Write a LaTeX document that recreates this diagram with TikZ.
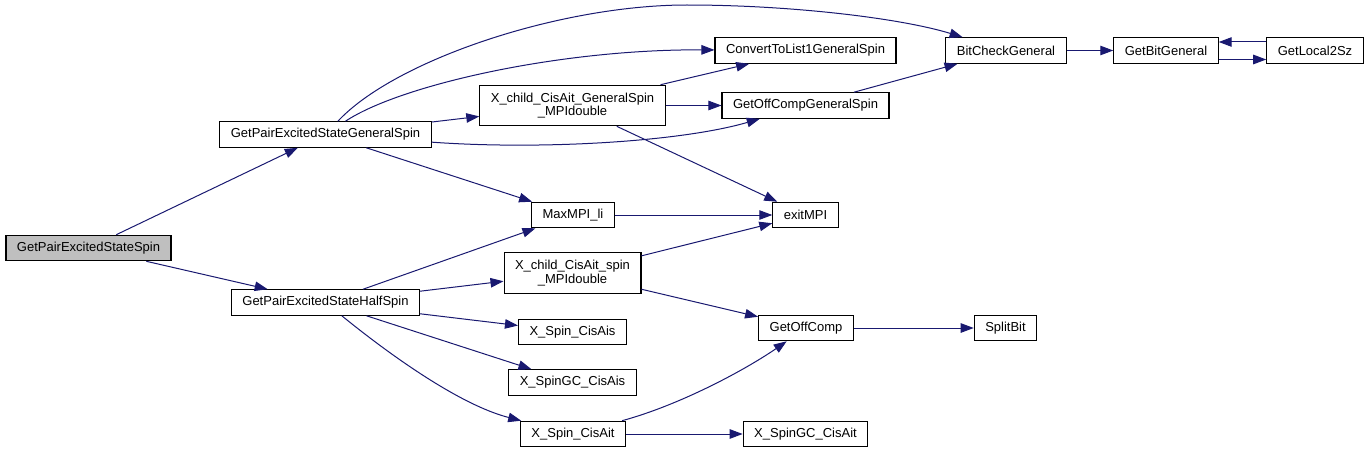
\documentclass[tikz,border=0pt]{standalone}
\usepackage{fontspec}
\setmainfont{Liberation Sans}
\usetikzlibrary{arrows.meta}
\definecolor{edgeblue}{RGB}{25,25,112}
\definecolor{rootgray}{RGB}{191,191,191}

\begin{document}
\begin{tikzpicture}[
    x=1pt, y=-1pt,
    font=\fontsize{13}{13.5}\selectfont,
    fn/.style={
      draw=black, line width=1.1pt, fill=white, align=center,
      minimum height=25.5pt, inner xsep=11pt, inner ysep=0pt
    },
    fntwo/.style={fn, minimum height=40.5pt},
    fnroot/.style={fn, fill=rootgray},
    call/.style={-{Triangle[length=13pt, width=9.5pt]}, color=edgeblue, line width=1pt}
  ]
    \useasboundingbox (0,0) rectangle (1369,452);

    % Root and first level
    \node[fnroot] (spin) at (88.5,248) {GetPairExcitedStateSpin};
    \node[fn] (gen) at (325.5,134.5) {GetPairExcitedStateGeneralSpin};
    \node[fn] (half) at (325.5,302.5) {GetPairExcitedStateHalfSpin};

    % Second column
    \node[fntwo] (xgen) at (572.5,105.5) {X\_child\_CisAit\_GeneralSpin\\\_MPIdouble};
    \node[fn] (maxmpi) at (573,215) {MaxMPI\_li};
    \node[fntwo] (xspin) at (572.5,273) {X\_child\_CisAit\_spin\\\_MPIdouble};
    \node[fn] (xcisais) at (572.5,332) {X\_Spin\_CisAis};
    \node[fn] (xgccisais) at (572.5,382.5) {X\_SpinGC\_CisAis};
    \node[fn] (xcisait) at (573,434) {X\_Spin\_CisAit};

    % Third column
    \node[fn] (conv) at (805.5,50.5) {ConvertToList1GeneralSpin};
    \node[fn] (offgen) at (805.5,105.5) {GetOffCompGeneralSpin};
    \node[fn] (exitmpi) at (805.5,215) {exitMPI};
    \node[fn] (getoffcomp) at (806,328) {GetOffComp};
    \node[fn] (xgccisait) at (805.5,434) {X\_SpinGC\_CisAit};

    % Right part
    \node[fn] (bitcheck) at (1006,50.5) {BitCheckGeneral};
    \node[fn] (splitbit) at (1005.5,328) {SplitBit};
    \node[fn] (getbit) at (1166,50.5) {GetBitGeneral};
    \node[fn] (local2sz) at (1315,50.5) {GetLocal2Sz};

    \coordinate (arctop) at (687,5);

    % Calls of GetPairExcitedStateSpin
    \draw[call] (spin) -- (gen);
    \draw[call] (spin) -- (half);

    % Calls of GetPairExcitedStateGeneralSpin
    \draw[call] (gen) .. controls (395,60) and (560,5) .. (arctop)
      .. controls (790,5) and (900,18) .. (bitcheck);
    \draw[call] (gen) .. controls (400,85) and (560,49) .. (conv);
    \draw[call] (gen) -- (xgen);
    \draw[call] (gen) .. controls (540,150) and (680,142) .. (offgen);
    \draw[call] (gen) -- (maxmpi);
    \draw[call] (xgen) -- (conv);
    \draw[call] (xgen) -- (offgen);
    \draw[call] (xgen) -- (exitmpi);
    \draw[call] (offgen) -- (bitcheck);
    \draw[call] (bitcheck) -- (getbit);
    \draw[call] ([shift={(0,9)}]getbit.east) -- ([shift={(0,9)}]local2sz.west);
    \draw[call] ([shift={(0,-8.5)}]local2sz.west) -- ([shift={(0,-8.5)}]getbit.east);
    \draw[call] (maxmpi) -- (exitmpi);

    % Calls of GetPairExcitedStateHalfSpin
    \draw[call] (half) -- (maxmpi);
    \draw[call] (half) -- (xspin);
    \draw[call] (half) -- (xcisais);
    \draw[call] (half) -- (xgccisais);
    \draw[call] (half) .. controls (390,355) and (460,405) .. (xcisait);
    \draw[call] (xspin) -- (exitmpi);
    \draw[call] (xspin) -- (getoffcomp);
    \draw[call] (xcisait) .. controls (680,405) and (745,370) .. (getoffcomp);
    \draw[call] (xcisait) -- (xgccisait);
    \draw[call] (getoffcomp) -- (splitbit);
  \end{tikzpicture}
\end{document}
